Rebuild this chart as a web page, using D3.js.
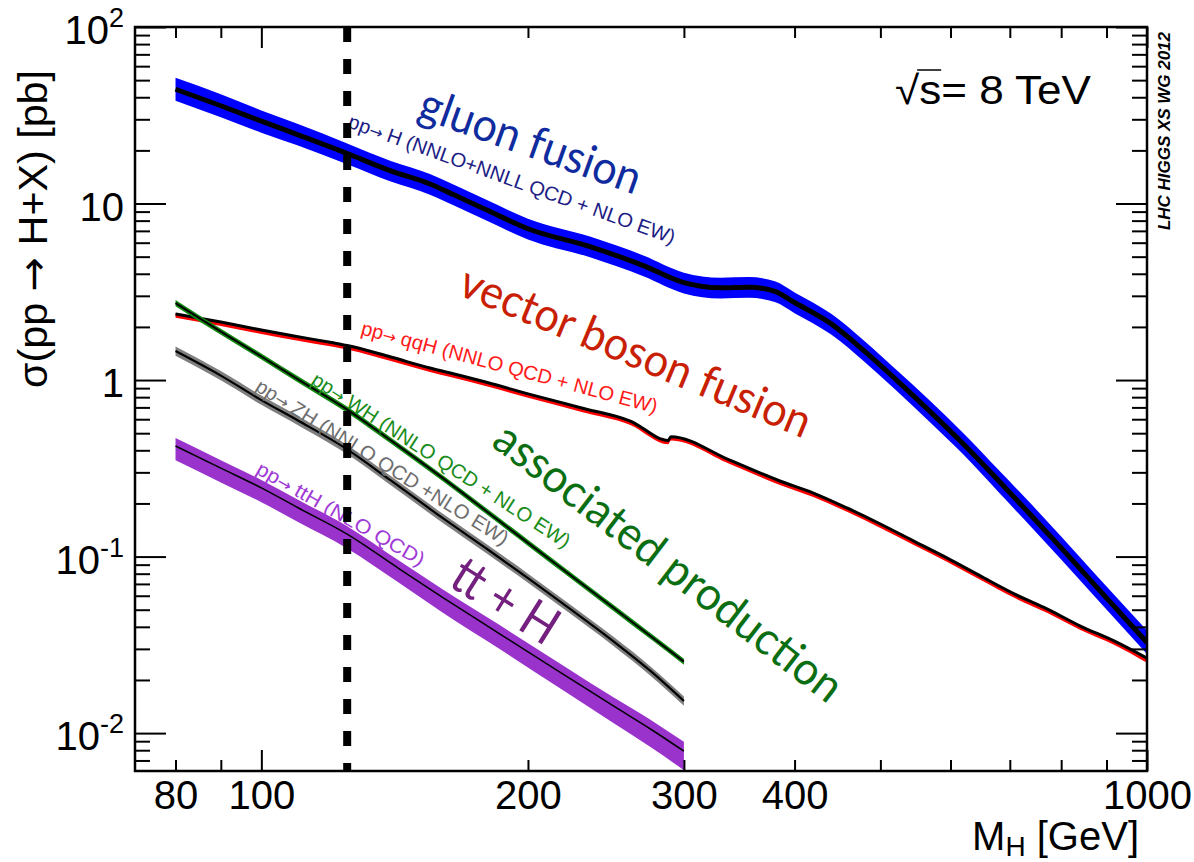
<!DOCTYPE html>
<html>
<head>
<meta charset="utf-8">
<script src="https://cdn.jsdelivr.net/npm/d3@7"></script>
<style>
  body { margin: 0; background: #fff; }
  svg text { font-family: "Liberation Sans", Arial, Helvetica, sans-serif; }
  .arrow { font-family: "DejaVu Sans", sans-serif; }
</style>
</head>
<body>
<div id="chart"></div>
<script>
// SM Higgs production cross sections at 8 TeV
// gluon fusion
const ggfMass = [80, 90, 100, 110, 125, 140, 155, 165, 180, 200, 235, 270, 300, 330, 355, 380, 400, 440, 480, 520, 570, 620, 680, 740, 800, 880, 1000];
const ggfXs   = [44.4, 35.8, 29.3, 24.5, 19.2, 15.3, 12.9, 11.2, 9.15, 7.2, 5.7, 4.45, 3.56, 3.33, 3.36, 3.18, 2.75, 2.08, 1.454, 1.013, 0.657, 0.436, 0.269, 0.171, 0.112, 0.066, 0.0326];
const ggfUp   = [16, 16, 15, 15, 14, 14, 14, 14, 14, 14, 14, 14, 14, 14, 14, 14, 14, 14, 14, 14, 15, 15, 15, 16, 16, 16, 17];
const ggfDn   = [14, 14, 14, 13, 13, 13, 13, 13, 13, 13, 13, 13, 13, 13, 13, 13, 13, 13, 13, 13, 13, 13, 14, 14, 14, 14, 14];

// vector boson fusion
const vbfMass = [80, 90, 100, 110, 120, 125, 140, 155, 163, 180, 201, 230, 261, 288, 290, 338, 385, 420, 459, 500, 546, 595, 649, 709, 772, 841, 919, 1000];
const vbfXs   = [2.37, 2.13, 1.92, 1.76, 1.63, 1.57, 1.35, 1.17, 1.10, 0.968, 0.83, 0.695, 0.586, 0.455, 0.478, 0.352, 0.268, 0.229, 0.188, 0.153, 0.122, 0.098, 0.0775, 0.0613, 0.0504, 0.0404, 0.0332, 0.0266];
const vbfUp   = [1, 1, 1, 1, 1, 1, 1, 1, 1, 1, 1, 1, 1, 1, 1, 1, 1, 1, 1, 1, 1, 1, 1, 1, 1, 1, 1, 1];
const vbfDn   = [5, 5, 5, 5, 5, 5, 5, 5, 5, 5, 5, 5, 5, 5, 5, 5, 5, 5, 5, 5, 5, 5, 5, 5, 5, 5, 5, 6];

// WH
const whMass = [80, 90, 100, 110, 125, 140, 160, 180, 200, 220, 250, 275, 300];
const whXs   = [2.73, 1.88, 1.36, 1.01, 0.68, 0.455, 0.28, 0.179, 0.1196, 0.0832, 0.0511, 0.0355, 0.0254];
const whUp   = [4, 4, 4, 4, 4, 4, 4, 4, 4, 4, 4, 4, 4];
const whDn   = [4, 4, 4, 4, 4, 4, 4, 4, 4, 4, 4, 4, 4];

// ZH
const zhMass = [80, 90, 100, 110, 125, 140, 160, 180, 200, 221, 250, 275, 300];
const zhXs   = [1.46, 1.06, 0.77, 0.59, 0.405, 0.27, 0.166, 0.110, 0.0755, 0.0524, 0.033, 0.0225, 0.0152];
const zhUp   = [6, 6, 6, 6, 6, 6, 6, 6, 6, 6, 6, 6, 6];
const zhDn   = [6, 6, 6, 6, 6, 6, 6, 6, 6, 6, 6, 6, 6];

// ttH
const tthMass = [80, 90, 100, 110, 125, 143, 160, 186, 220, 250, 275, 300];
const tthXs   = [0.423, 0.317, 0.245, 0.189, 0.134, 0.0855, 0.059, 0.0364, 0.0213, 0.0142, 0.01055, 0.0079];
const tthUp   = [11, 11, 11, 11, 11, 11, 11, 12, 12, 12, 13, 13];
const tthDn   = [17, 17, 17, 17, 17, 17, 18, 18, 19, 20, 21, 22];

// axis ticks
const xLabelTicks = [80, 100, 200, 300, 400, 1000];
const xMajorTicks = [100, 1000];
const xMinorTicks = [80, 90, 200, 300, 400, 500, 600, 700, 800, 900];
const yMajorTicks = [0.01, 0.1, 1, 10, 100];
const yTickBase   = ["10", "10", "1", "10", "10"];
const yTickExp    = ["-2", "-1", "", "", "2"];
const higgsMass   = 125;

const width = 1194;
const height = 862;
const margin = {left: 135, right: 47, top: 27, bottom: 91};

let xScale = d3.scaleLog()
    .domain([72, 1000])
    .range([margin.left, width - margin.right]);

let yScale = d3.scaleLog()
    .domain([0.0061, 100])
    .range([height - margin.bottom, margin.top]);

const svg = d3.select("#chart")
    .append("svg")
    .attr("width", width)
    .attr("height", height);

svg.append("clipPath")
    .attr("id", "plotclip")
  .append("rect")
    .attr("x", margin.left)
    .attr("y", margin.top)
    .attr("width", width - margin.left - margin.right)
    .attr("height", height - margin.top - margin.bottom);

const plot = svg.append("g").attr("clip-path", "url(#plotclip)");

// processes, drawn bottom to top
const procs = [
  {mass: ggfMass, xs: ggfXs, up: ggfUp, dn: ggfDn, band: "#0000ff", lw: 5},
  {mass: vbfMass, xs: vbfXs, up: vbfUp, dn: vbfDn, band: "#ff0000", lw: 3},
  {mass: zhMass,  xs: zhXs,  up: zhUp,  dn: zhDn,  band: "#7f7f7f", lw: 2.2},
  {mass: whMass,  xs: whXs,  up: whUp,  dn: whDn,  band: "#128a12", lw: 2},
  {mass: tthMass, xs: tthXs, up: tthUp, dn: tthDn, band: "#9933cc", lw: 1.5}
];

const area = d3.area()
    .x((d) => xScale(d.m))
    .y0((d) => yScale(d.lo))
    .y1((d) => yScale(d.hi))
    .curve(d3.curveMonotoneX);

const line = d3.line()
    .x((d) => xScale(d.m))
    .y((d) => yScale(d.v))
    .curve(d3.curveMonotoneX);

procs.forEach(function(p) {
    let pts = p.mass.map((m, i) => ({
        m: m,
        v: p.xs[i],
        hi: p.xs[i] * (1 + p.up[i] / 100),
        lo: p.xs[i] * (1 - p.dn[i] / 100)
    }));
    plot.append("path")
        .datum(pts)
        .attr("d", area)
        .attr("fill", p.band);
    plot.append("path")
        .datum(pts)
        .attr("d", line)
        .attr("fill", "none")
        .attr("stroke", "#000")
        .attr("stroke-width", p.lw);
});

// big process names
const bigLabels = [
  {t: "gluon fusion",          m: 149.5, v: 30.9,   a: 19.6, len: 232, c: "#0f2b9e", fs: 46},
  {t: "vector boson fusion",   m: 166,   v: 3.07,   a: 22.6, len: 376, c: "#c81f05", fs: 46},
  {t: "associated production", m: 181.2, v: 0.428,  a: 37.5, len: 426, c: "#0b6e12", fs: 46},
  {t: "tt + H",                m: 162,   v: 0.069,  a: 32,   len: 116, c: "#74207f", fs: 52}
];

svg.selectAll(".biglab")
    .data(bigLabels)
    .enter()
    .append("text")
        .attr("class", "biglab")
        .attr("transform", (d) => `translate(${xScale(d.m)},${yScale(d.v)}) rotate(${d.a})`)
        .style("font-family", "Lato, 'Open Sans', sans-serif")
        .attr("font-size", (d) => d.fs)
        .attr("fill", (d) => d.c)
        .attr("textLength", (d) => d.len)
        .attr("lengthAdjust", "spacingAndGlyphs")
        .text((d) => d.t);

// small labels along the curves ("pp -> X (...)")
const smallLabels = [
  {t: "H (NNLO+NNLL QCD + NLO EW)", m: 124.9, v: 27.1,  a: 19.8, len: 346, c: "#1d1d85"},
  {t: "qqH (NNLO QCD + NLO EW)",    m: 129.2, v: 1.82,  a: 15,   len: 306, c: "#ff1a1a"},
  {t: "WH (NNLO QCD + NLO EW)",     m: 113.5, v: 0.96,  a: 33,   len: 304, c: "#1a8c1a"},
  {t: "ZH (NNLO QCD +NLO EW)",      m: 98.1,  v: 0.878, a: 32,   len: 294, c: "#6e6e6e"},
  {t: "ttH (NLO QCD)",              m: 98.3,  v: 0.297, a: 29.5, len: 190, c: "#a03ad6"}
];

let slab = svg.selectAll(".smalllab")
    .data(smallLabels)
    .enter()
    .append("text")
        .attr("class", "smalllab")
        .attr("transform", (d) => `translate(${xScale(d.m)},${yScale(d.v)}) rotate(${d.a})`)
        .attr("font-size", 20)
        .attr("fill", (d) => d.c)
        .attr("textLength", (d) => d.len)
        .attr("lengthAdjust", "spacingAndGlyphs");
slab.append("tspan").text("pp");
slab.append("tspan").attr("class", "arrow").attr("font-size", 16).text("\u2192 ");
slab.append("tspan").text((d) => d.t);

// m_H = 125 GeV dashed line
svg.append("line")
    .attr("x1", xScale(higgsMass))
    .attr("x2", xScale(higgsMass))
    .attr("y1", margin.top)
    .attr("y2", height - margin.bottom)
    .attr("stroke", "#000")
    .attr("stroke-width", 8)
    .attr("stroke-dasharray", "15,17");

// axes: ticks on all four sides
const bottomY = height - margin.bottom;
const rightX = width - margin.right;

function tickAxis(gen, scale, values, size, tx, ty) {
    let g = svg.append("g")
        .attr("transform", `translate(${tx},${ty})`)
        .call(gen(scale)
            .tickValues(values)
            .tickSize(size)
            .tickFormat(""));
    g.select(".domain").remove();
    g.selectAll("line").attr("stroke", "#000").attr("stroke-width", 2);
    return g;
}

tickAxis(d3.axisBottom, xScale, xMinorTicks, -11, 0, bottomY);
tickAxis(d3.axisBottom, xScale, xMajorTicks, -21, 0, bottomY);
tickAxis(d3.axisTop,    xScale, xMinorTicks, -11, 0, margin.top);
tickAxis(d3.axisTop,    xScale, xMajorTicks, -21, 0, margin.top);

let yMinorTicks = [];
[0.001, 0.01, 0.1, 1, 10].forEach(function(dec) {
    [2, 3, 4, 5, 6, 7, 8, 9].forEach(function(k) {
        let v = dec * k;
        if (v >= 0.0061 && v <= 100) yMinorTicks.push(v);
    });
});

tickAxis(d3.axisLeft,  yScale, yMinorTicks, -15, margin.left, 0);
tickAxis(d3.axisLeft,  yScale, yMajorTicks, -31, margin.left, 0);
tickAxis(d3.axisRight, yScale, yMinorTicks, -15, rightX, 0);
tickAxis(d3.axisRight, yScale, yMajorTicks, -31, rightX, 0);

// frame
svg.append("rect")
    .attr("x", margin.left)
    .attr("y", margin.top)
    .attr("width", rightX - margin.left)
    .attr("height", bottomY - margin.top)
    .attr("fill", "none")
    .attr("stroke", "#000")
    .attr("stroke-width", 2.5);

// x tick labels
svg.append("g")
    .attr("transform", `translate(0,${bottomY})`)
    .call(d3.axisBottom(xScale)
        .tickValues(xLabelTicks)
        .tickSize(0)
        .tickPadding(10)
        .tickFormat(d3.format("d")))
    .call((g) => g.select(".domain").remove())
    .selectAll("text")
        .attr("font-size", 40)
        .attr("fill", "#000")
        .style("font-family", "'Liberation Sans', Arial, sans-serif");

// y tick labels with exponents
let ylab = svg.selectAll(".ylab")
    .data(yMajorTicks)
    .enter()
    .append("text")
        .attr("class", "ylab")
        .attr("x", 124)
        .attr("y", (d) => yScale(d) + 17)
        .attr("text-anchor", "end")
        .attr("font-size", 40);
ylab.append("tspan").text((d, i) => yTickBase[i]);
ylab.append("tspan")
    .attr("dy", -17)
    .attr("font-size", 27)
    .text((d, i) => yTickExp[i]);

// axis titles
let yt = svg.append("text")
    .attr("transform", `translate(47,70) rotate(-90)`)
    .attr("text-anchor", "end")
    .attr("font-size", 40)
    .attr("textLength", 318)
    .attr("lengthAdjust", "spacingAndGlyphs");
yt.append("tspan").text("\u03c3(pp ");
yt.append("tspan").attr("class", "arrow").text("\u2192");
yt.append("tspan").text(" H+X) [pb]");

let xt = svg.append("text")
    .attr("x", rightX - 8)
    .attr("y", 850)
    .attr("text-anchor", "end")
    .attr("font-size", 40);
xt.append("tspan").text("M");
xt.append("tspan").attr("font-size", 28).attr("dy", 6).text("H");
xt.append("tspan").attr("dy", -6).text(" [GeV]");

// sqrt(s) label
let sq = svg.append("text")
    .attr("x", 895)
    .attr("y", 104)
    .attr("font-size", 40)
    .attr("textLength", 196)
    .attr("lengthAdjust", "spacingAndGlyphs");
sq.append("tspan").text("\u221a");
sq.append("tspan").text("s= 8 TeV");
let sNode = sq.node();
let rootEnd = sNode.getExtentOfChar(0);
let sBox = sNode.getExtentOfChar(1);
svg.append("line")
    .attr("x1", rootEnd.x + rootEnd.width - 2)
    .attr("x2", sBox.x + sBox.width)
    .attr("y1", 70)
    .attr("y2", 70)
    .attr("stroke", "#000")
    .attr("stroke-width", 1.5);

// working group tag
svg.append("text")
    .attr("transform", `translate(1170,230) rotate(-90)`)
    .attr("font-size", 16)
    .attr("font-weight", "bold")
    .attr("font-style", "italic")
    .attr("textLength", 198)
    .attr("lengthAdjust", "spacingAndGlyphs")
    .text("LHC HIGGS XS WG 2012");
</script>
</body>
</html>
